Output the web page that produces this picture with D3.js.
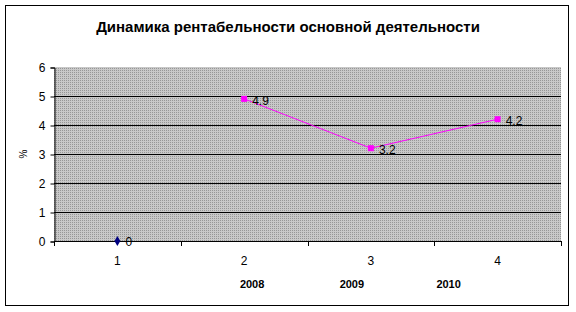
<!DOCTYPE html>
<html>
<head>
<meta charset="utf-8">
<script src="https://cdn.jsdelivr.net/npm/d3@7"></script>
<style>
  body { margin: 0; background: #fff; }
  svg { display: block; font-family: "Liberation Sans", Arial, sans-serif; }
</style>
</head>
<body>
<svg></svg>
<script>
//chart data
const title = "Динамика рентабельности основной деятельности";
const categories = ["1", "2", "3", "4"];
const seriesStart = [0, null, null, null];   // navy point
const seriesMain = [null, 4.9, 3.2, 4.2];    // magenta line
const yTicks = [0, 1, 2, 3, 4, 5, 6];
const yearLabels = ["2008", "2009", "2010"];
const yLabel = "%";

const width = 576;
const height = 312;

const svg = d3.select("svg")
  .attr("width", width)
  .attr("height", height);

//dotted grey fill for the plot area
const defs = svg.append("defs");
const pat = defs.append("pattern")
  .attr("id", "dots")
  .attr("width", 2)
  .attr("height", 2)
  .attr("patternUnits", "userSpaceOnUse");
pat.append("rect").attr("width", 2).attr("height", 2).attr("fill", "#c8c8c8");
pat.append("rect").attr("width", 1).attr("height", 1).attr("fill", "#969696");

//outer frame
svg.append("rect")
  .attr("x", 5.5).attr("y", 5.5)
  .attr("width", 563).attr("height", 300)
  .attr("fill", "#fff")
  .attr("stroke", "#000")
  .attr("stroke-width", 1);

//title
svg.append("text")
  .attr("x", 288).attr("y", 32)
  .attr("text-anchor", "middle")
  .attr("font-size", 15)
  .attr("font-weight", "bold")
  .text(title);

//scales
const x = d3.scaleBand().domain(categories).range([54, 561]).padding(0);
const y = d3.scaleLinear().domain([0, 6]).range([241, 67]);
const cx = d => x(d) + x.bandwidth() / 2;

//plot area
svg.append("rect")
  .attr("x", x.range()[0]).attr("y", y(6))
  .attr("width", x.range()[1] - x.range()[0])
  .attr("height", y(0) - y(6))
  .attr("fill", "url(#dots)")
  .attr("shape-rendering", "crispEdges");

//gridlines
svg.selectAll("line.grid")
  .data(yTicks.filter(t => t > 0 && t < 6))
  .enter().append("line")
  .attr("class", "grid")
  .attr("x1", x.range()[0]).attr("x2", x.range()[1])
  .attr("y1", d => Math.round(y(d)) + 0.5)
  .attr("y2", d => Math.round(y(d)) + 0.5)
  .attr("stroke", "#000")
  .attr("stroke-width", 1);

//y axis
const yAxis = d3.axisLeft(y).tickValues(yTicks).tickSize(4).tickPadding(5).tickFormat(d3.format("d"));
const gy = svg.append("g")
  .attr("transform", `translate(${x.range()[0] + 0.5},0.5)`)
  .call(yAxis);
gy.select(".domain").attr("stroke", "#000");
gy.selectAll("text").attr("font-size", 12).attr("font-family", "Liberation Sans, Arial, sans-serif").attr("fill", "#000");

//x axis line and boundary ticks
svg.append("line")
  .attr("x1", x.range()[0]).attr("x2", x.range()[1] + 1)
  .attr("y1", y(0) + 0.5).attr("y2", y(0) + 0.5)
  .attr("stroke", "#000");
const bounds = categories.map(c => x(c)).concat([x.range()[1]]);
svg.selectAll("line.xtick")
  .data(bounds)
  .enter().append("line")
  .attr("class", "xtick")
  .attr("x1", d => Math.round(d) + 0.5).attr("x2", d => Math.round(d) + 0.5)
  .attr("y1", y(0)).attr("y2", y(0) + 5)
  .attr("stroke", "#000");

svg.selectAll("text.xlab")
  .data(categories)
  .enter().append("text")
  .attr("class", "xlab")
  .attr("x", d => cx(d))
  .attr("y", y(0) + 24)
  .attr("text-anchor", "middle")
  .attr("font-size", 12)
  .text(d => d);

//year captions under the axis
const yearX = [cx("2") + 8, cx("3") - 19, cx("4") - 49];
svg.selectAll("text.year")
  .data(yearLabels)
  .enter().append("text")
  .attr("class", "year")
  .attr("x", (d, i) => yearX[i])
  .attr("y", y(0) + 47)
  .attr("text-anchor", "middle")
  .attr("font-size", 11)
  .attr("font-weight", "bold")
  .text(d => d);

//y label
svg.append("text")
  .attr("transform", `translate(27,${y(3)}) rotate(-90)`)
  .attr("text-anchor", "middle")
  .attr("font-size", 10)
  .text(yLabel);

//magenta series
const mainPts = categories.map((c, i) => ({ c, v: seriesMain[i] })).filter(d => d.v !== null);
svg.append("path")
  .datum(mainPts)
  .attr("d", d3.line().x(d => cx(d.c)).y(d => y(d.v)))
  .attr("fill", "none")
  .attr("stroke", "#ff00ff")
  .attr("stroke-width", 1);
svg.selectAll("rect.mk")
  .data(mainPts)
  .enter().append("rect")
  .attr("class", "mk")
  .attr("x", d => cx(d.c) - 3).attr("y", d => y(d.v) - 3)
  .attr("width", 6).attr("height", 6)
  .attr("fill", "#ff00ff");
svg.selectAll("text.lbl")
  .data(mainPts)
  .enter().append("text")
  .attr("class", "lbl")
  .attr("x", d => cx(d.c) + 8)
  .attr("y", d => y(d.v) + 6)
  .attr("font-size", 12)
  .text(d => d.v);

//navy start point
const startPts = categories.map((c, i) => ({ c, v: seriesStart[i] })).filter(d => d.v !== null);
svg.selectAll("path.dia")
  .data(startPts)
  .enter().append("path")
  .attr("class", "dia")
  .attr("d", d3.symbol().type(d3.symbolDiamond).size(30))
  .attr("transform", d => `translate(${cx(d.c)},${y(d.v)})`)
  .attr("fill", "#000080");
svg.selectAll("text.lbl0")
  .data(startPts)
  .enter().append("text")
  .attr("class", "lbl0")
  .attr("x", d => cx(d.c) + 8)
  .attr("y", d => y(d.v) + 5)
  .attr("font-size", 12)
  .text(d => d.v);
</script>
</body>
</html>
